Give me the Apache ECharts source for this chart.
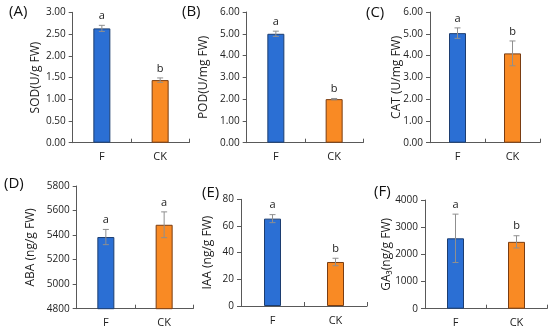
<!DOCTYPE html>
<html><head><meta charset="utf-8">
<script src="https://cdn.jsdelivr.net/npm/echarts@6/dist/echarts.min.js"></script>
<style>html,body{margin:0;padding:0;background:#fff}#c{width:550px;height:332px}</style>
</head><body><div id="c"></div>
<script>
const categories = ['F', 'CK'];
const sodMean = [2.63, 1.44], sodErr = [0.07, 0.05], sodLetters = ['a', 'b'];
const podMean = [5.00, 2.00], podErr = [0.12, 0.03], podLetters = ['a', 'b'];
const catMean = [5.03, 4.10], catErr = [0.24, 0.57], catLetters = ['a', 'b'];
const abaMean = [5384, 5484], abaErr = [62, 105], abaLetters = ['a', 'a'];
const iaaMean = [65.5, 33.0], iaaErr = [3.0, 2.8], iaaLetters = ['a', 'b'];
const ga3Mean = [2590, 2460], ga3Err = [890, 225], ga3Letters = ['a', 'b'];

const panels = [
  {tag:'(A)', name:'SOD(U/g FW)', mean:sodMean, err:sodErr, letters:sodLetters, min:0, max:3, interval:0.5, dec:2,
   grid:{left:72.7, top:12.3, width:116.6, height:130.4}, gap:31, tagPos:[9,4]},
  {tag:'(B)', name:'POD(U/mg FW)', mean:podMean, err:podErr, letters:podLetters, min:0, max:6, interval:1, dec:2,
   grid:{left:246.7, top:12, width:116.6, height:130.7}, gap:37, tagPos:[182,4]},
  {tag:'(C)', name:'CAT (U/mg FW)', mean:catMean, err:catErr, letters:catLetters, min:0, max:6, interval:1, dec:2,
   grid:{left:430, top:12, width:110, height:130.7}, gap:27, tagPos:[366,5]},
  {tag:'(D)', name:'ABA (ng/g FW)', mean:abaMean, err:abaErr, letters:abaLetters, min:4800, max:5800, interval:200, dec:0,
   grid:{left:76.7, top:186, width:116.6, height:122.7}, gap:40, tagPos:[4,176]},
  {tag:'(E)', name:'IAA (ng/g FW)', mean:iaaMean, err:iaaErr, letters:iaaLetters, min:0, max:80, interval:20, dec:0,
   grid:{left:241, top:199.3, width:126, height:106.7}, gap:27, tagPos:[202,185]},
  {tag:'(F)', name:'GA\u2083(ng/g FW)', mean:ga3Mean, err:ga3Err, letters:ga3Letters, min:0, max:4000, interval:1000, dec:0,
   grid:{left:425, top:200, width:122, height:108.7}, gap:32, tagPos:[374,184]}
];

const FONT = 'Open Sans';
const axisColor = '#595959';
const barColors = ['#2b6fd4', '#f98a24'];
const barBorders = ['#1c3d70', '#7a3d12'];

const grids = [], xAxes = [], yAxes = [], series = [], graphics = [];
panels.forEach((p, i) => {
  grids.push(Object.assign({containLabel:false}, p.grid));
  xAxes.push({type:'category', gridIndex:i, data:categories,
    axisLine:{lineStyle:{color:axisColor, width:1}},
    axisTick:{show:true, inside:true, length:4, alignWithLabel:false, lineStyle:{color:axisColor}},
    axisLabel:{color:'#222', fontFamily:FONT, fontSize:11, margin:9}});
  yAxes.push({type:'value', gridIndex:i, min:p.min, max:p.max, interval:p.interval,
    name:p.name, nameLocation:'middle', nameGap:p.gap, nameRotate:90, nameMoveOverlap:false,
    nameTextStyle:{color:'#222', fontFamily:FONT, fontSize:12},
    axisLine:{show:true, lineStyle:{color:axisColor, width:1}},
    axisTick:{show:true, length:4, lineStyle:{color:axisColor}},
    splitLine:{show:false},
    axisLabel:{color:'#222', fontFamily:FONT, fontSize:10, margin:7,
      formatter:v => v.toFixed(p.dec)}});
  series.push({type:'bar', xAxisIndex:i, yAxisIndex:i, barWidth:17,
    data:p.mean.map((v, k) => ({value:v, itemStyle:{color:barColors[k], borderColor:barBorders[k], borderWidth:1}})),
    silent:true, animation:false});
  series.push({type:'custom', xAxisIndex:i, yAxisIndex:i, silent:true, animation:false, z:10,
    data:p.mean.map((v, k) => [k, v, p.err[k], p.letters[k]]),
    renderItem:(params, api) => {
      const k = api.value(0), m = api.value(1), e = api.value(2);
      const top = api.coord([k, m + e]);
      const bot = api.coord([k, m - e]);
      const x = top[0], c = 3;
      return {type:'group', children:[
        {type:'line', shape:{x1:x, y1:top[1], x2:x, y2:bot[1]}, style:{stroke:'#8f8f8f', lineWidth:1}},
        {type:'line', shape:{x1:x-c, y1:top[1], x2:x+c, y2:top[1]}, style:{stroke:'#8f8f8f', lineWidth:1}},
        {type:'line', shape:{x1:x-c, y1:bot[1], x2:x+c, y2:bot[1]}, style:{stroke:'#8f8f8f', lineWidth:1}},
        {type:'text', style:{text:p.letters[k], x:x, y:top[1]-4, textAlign:'center', textVerticalAlign:'bottom',
          fill:'#222', font:'11px "' + FONT + '"'}}
      ]};
    }});
  graphics.push({type:'text', left:p.tagPos[0], top:p.tagPos[1],
    style:{text:p.tag, fill:'#111', font:'15px "' + FONT + '"'}});
});

const chart = echarts.init(document.getElementById('c'), null, {renderer:'canvas'});
chart.setOption({animation:false, backgroundColor:'#fff', grid:grids, xAxis:xAxes, yAxis:yAxes, series:series, graphic:graphics});
</script></body></html>
